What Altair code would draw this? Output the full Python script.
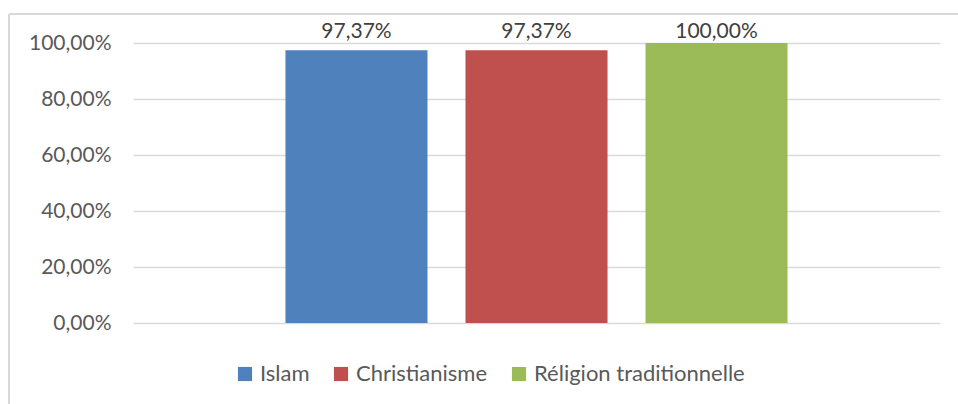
import altair as alt
import pandas as pd

categories = ["Islam", "Christianisme", "Réligion traditionnelle"]
values = [0.9737, 0.9737, 1.0]
colors = ["#4F81BD", "#C0504D", "#9BBB59"]
y_ticks = [0, 0.2, 0.4, 0.6, 0.8, 1.0]

df = pd.DataFrame({"religion": categories, "pct": values})
df["label"] = [f"{v*100:.2f}%".replace(".", ",") for v in values]

FONT = "Lato"
W, H = 807, 280

x = alt.X("religion:N", sort=categories, axis=None,
          scale=alt.Scale(paddingInner=0.211, paddingOuter=0.847))
y = alt.Y("pct:Q", scale=alt.Scale(domain=[0, 1]),
          axis=alt.Axis(values=y_ticks, title=None, domain=False, ticks=False,
                        labelExpr="replace(format(datum.value, '.2%'), '.', ',')",
                        labelFont=FONT, labelFontSize=21, labelColor="#595959",
                        labelPadding=22, gridColor="#D9D9D9", gridWidth=1.5))

bars = alt.Chart(df).mark_bar().encode(
    x=x, y=y,
    color=alt.Color("religion:N", sort=categories,
                    scale=alt.Scale(domain=categories, range=colors),
                    legend=alt.Legend(title=None, orient="none", direction="horizontal",
                                      legendX=101, legendY=320, symbolType="square",
                                      symbolSize=200, symbolStrokeWidth=0,
                                      labelFont=FONT, labelFontSize=22, labelLimit=500,
                                      labelColor="#595959", columnPadding=20,
                                      labelOffset=4, padding=0))
)

# Excel places labels above the bar, but keeps them inside the chart top
labels = alt.Chart(df).transform_calculate(
    label_y="min(datum.pct + 0.033, 1.0)"
).mark_text(baseline="bottom", dy=-1, font=FONT, fontSize=21,
            color="#404040").encode(
    x=x, y=alt.Y("label_y:Q", scale=alt.Scale(domain=[0, 1])), text="label:N")

border = alt.Chart(df).mark_rule(color="#D9D9D9", strokeWidth=1.5).encode(
    x=alt.value(-124), x2=alt.value(900), y=alt.value(-29))
border2 = alt.Chart(df).mark_rule(color="#D9D9D9", strokeWidth=1.5).encode(
    x=alt.value(-124), y=alt.value(-29), y2=alt.value(400))

chart = alt.layer(bars, labels, border, border2).properties(
    width=W, height=H,
    background="white",
    autosize=alt.AutoSizeParams(type="none"),
    padding={"left": 133, "top": 43, "right": 18, "bottom": 81},
).configure_view(strokeWidth=0, stroke="transparent")

chart.save("out.html", embed_options={"renderer": "svg", "actions": False})
